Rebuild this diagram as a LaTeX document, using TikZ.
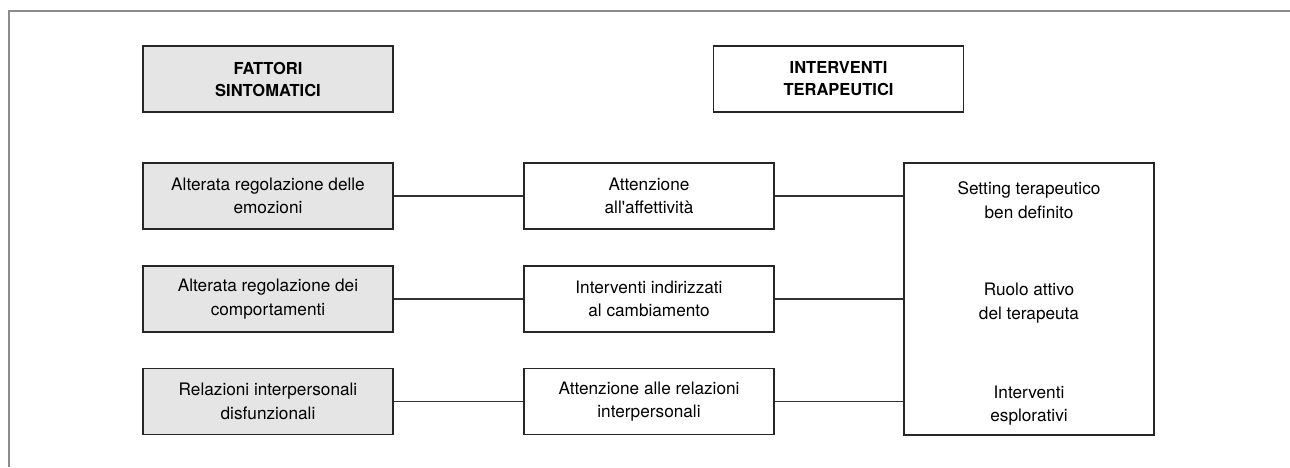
\documentclass[tikz,border=0pt]{standalone}
\usepackage{fontspec}
\setmainfont{TeX Gyre Heros}[Ligatures=TeXOff]
\begin{document}
\begin{tikzpicture}[x=1pt,y=-1pt,
  every node/.style={font=\fontsize{17.2}{23.5}\selectfont, align=center, inner sep=0pt},
  box/.style={draw=black!85, line width=1.2pt, minimum width=250pt, minimum height=66pt},
  greybox/.style={box, fill=black!10},
  head/.style={font=\bfseries\fontsize{16.5}{22}\selectfont},
  conn/.style={draw=black!80, line width=1.3pt},
  frame/.style={draw=black!45, line width=2pt}]
\useasboundingbox (0,0) rectangle (1290,467);
\draw[frame] (9,467) -- (9,11) -- (1290,11);
% headers
\node[greybox, head] (h1) at (268,79) {FATTORI\\SINTOMATICI};
\node[box, head] (h2) at (838.5,79) {INTERVENTI\\TERAPEUTICI};
% left column
\node[greybox] (l1) at (268,196) {Alterata regolazione delle\\emozioni};
\node[greybox] (l2) at (268,299) {Alterata regolazione dei\\comportamenti};
\node[greybox] (l3) at (268,401.5) {Relazioni interpersonali\\disfunzionali};
% middle column
\node[box] (m1) at (649,196) {Attenzione\\all'affettività};
\node[box] (m2) at (649,299) {Interventi indirizzati\\al cambiamento};
\node[box] (m3) at (649,401.5) {Attenzione alle relazioni\\interpersonali};
% right box
\node[box, minimum height=272pt] (r) at (1029,299) {};
\node (t1) at (1029,200) {Setting terapeutico\\ben definito};
\node (t2) at (1029,303) {Ruolo attivo\\del terapeuta};
\node (t3) at (1029,405.5) {Interventi\\esplorativi};
% connectors
\draw[conn] (l1.east) -- (m1.west);
\draw[conn] (l2.east) -- (m2.west);
\draw[conn] (l3.east) -- (m3.west);
\draw[conn] (m1.east) -- (m1.east -| r.west);
\draw[conn] (m2.east) -- (m2.east -| r.west);
\draw[conn] (m3.east) -- (m3.east -| r.west);
\end{tikzpicture}
\end{document}
